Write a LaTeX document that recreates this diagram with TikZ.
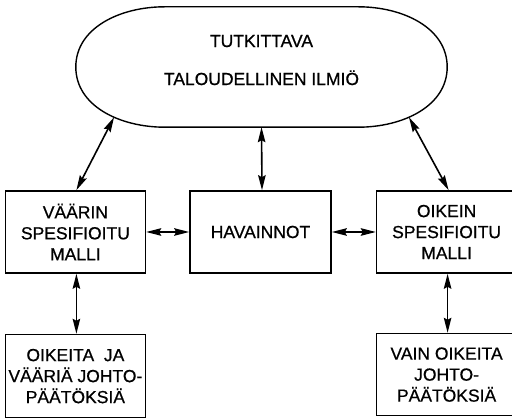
\documentclass[tikz,border=0pt]{standalone}
\usepackage{fontspec}
\setmainfont{Liberation Sans}[FakeBold=0.7]
\usetikzlibrary{arrows.meta, positioning}

\begin{document}
\begin{tikzpicture}[
  x=1pt, y=1pt,
  box/.style={draw=black, line width=1.6pt, align=center, font=\fontsize{17.5}{21}\selectfont, inner sep=2pt, minimum width=140pt, minimum height=82pt},
  rim/.style={draw=black, line width=1.4pt},
  dbl/.style={{Stealth[length=15pt, width=7.5pt, inset=2pt]}-{Stealth[length=15pt, width=7.5pt, inset=2pt]}, line width=1.6pt}
]
  \useasboundingbox (0,0) rectangle (512,-419);

  % Ilmio (top)
  \node[align=center, font=\fontsize{17.5}{21}\selectfont, minimum width=371pt, minimum height=120pt, text depth=14pt] (ilmio) at (261.5,-67) {TUTKITTAVA\\[17pt]TALOUDELLINEN ILMIÖ};
  \draw[rim] (ilmio.west) .. controls +(0,39) and +(-45,0) .. ([xshift=89pt]ilmio.north west)
    -- ([xshift=-89pt]ilmio.north east) .. controls +(45,0) and +(0,39) .. (ilmio.east)
    .. controls +(0,-39) and +(45,0) .. coordinate[pos=0.6] (ilmio-oikea) ([xshift=-89pt]ilmio.south east)
    -- ([xshift=89pt]ilmio.south west) .. controls +(-45,0) and +(0,-39) .. coordinate[pos=0.4] (ilmio-vasen) (ilmio.west);

  % Mallit ja havainnot
  \node[box, minimum width=141pt] (havainnot) at (260.5,-232) {HAVAINNOT};
  \node[box, left=43pt of havainnot] (vaarin) {VÄÄRIN\\SPESIFIOITU\\MALLI};
  \node[box, right=44pt of havainnot] (oikein) {OIKEIN\\SPESIFIOITU\\MALLI};

  % Johtopaatokset
  \node[box, below=60pt of vaarin, minimum height=83pt] (vaarat) {OIKEITA\ \ JA\\VÄÄRIÄ JOHTO-\\PÄÄTÖKSIÄ};
  \node[box, below=59pt of oikein] (oikeat) {VAIN OIKEITA\\JOHTO-\\PÄÄTÖKSIÄ};

  \draw[dbl] ([xshift=1pt]vaarin.north) -- (ilmio-vasen);
  \draw[dbl] ([xshift=1.5pt]havainnot.north) -- (ilmio.south);
  \draw[dbl] ([xshift=2pt]oikein.north) -- (ilmio-oikea);
  \draw[dbl] (vaarin.east) -- (havainnot.west);
  \draw[dbl] (havainnot.east) -- (oikein.west);
  \draw[dbl] ([xshift=1pt]vaarin.south) -- ([xshift=1pt]vaarat.north);
  \draw[dbl] ([xshift=1pt]oikein.south) -- ([xshift=1pt]oikeat.north);

\end{tikzpicture}
\end{document}
